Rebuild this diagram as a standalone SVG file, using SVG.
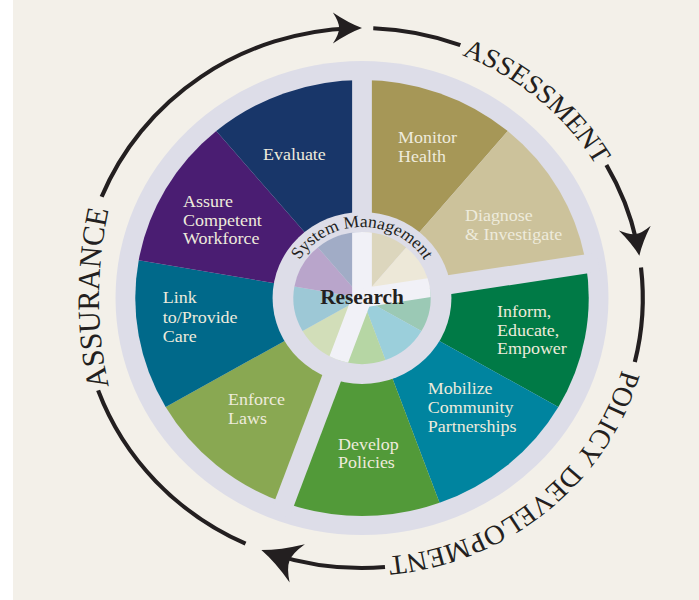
<svg xmlns="http://www.w3.org/2000/svg" width="699" height="600" viewBox="0 0 699 600">
<style>
.lbl{font-family:"Liberation Serif","Times New Roman",serif;font-size:17.3px;fill:#EEEBDC}
.cyc{font-family:"Liberation Serif","Times New Roman",serif;fill:#231F20}
.arc{fill:none;stroke:#231F20;stroke-width:4}
.head{fill:#231F20}
.gap{stroke:#DDDDE8;stroke-width:19}
.band{stroke:#F1F1F7;stroke-width:19;stroke-linecap:round}
.plate{fill:#DDDDE8}
</style>
<defs>
<path id="arrowhead" d="M0,0 Q-13,-5 -28,-15.5 Q-22,-6 -22,0 Q-22,6 -28,15.5 Q-13,5 0,0 Z"/>
<path id="p-assurance" d="M134.43,441.65 A420,420 0 0 1 134.43,154.35"/>
<path id="p-assessment" d="M316.68,40.96 A261,261 0 0 1 623,298"/>
<path id="p-policy" d="M622,298 A260,260 0 0 1 316.85,554.05"/>
<path id="p-system" d="M291,298 A71,71 0 0 1 433,298"/>
<clipPath id="pie-clip"><circle cx="362" cy="298" r="66"/></clipPath>
</defs>

<rect width="699" height="600" fill="#F3F0E9"/>
<rect width="13" height="600" fill="#FFFFFF"/>

<!-- whole wheel is drawn round (362,298) and widened slightly -->
<g transform="matrix(1.04 0 0 1 -14.48 0)">

  <!-- backing plate -->
  <circle class="plate" cx="362" cy="298" r="237"/>

  <g id="monitor-health">
    <path d="M362,298 L362,80 A218,218 0 0 1 502.13,131 Z" fill="#A69757"/>
    <text class="lbl" x="396.6" y="143.5">Monitor</text>
    <text class="lbl" x="396.6" y="162">Health</text>
  </g>
  <g id="diagnose-investigate">
    <path d="M362,298 L502.13,131 A218,218 0 0 1 577.32,263.9 Z" fill="#CCC29B"/>
    <text class="lbl" x="461" y="221.5">Diagnose</text>
    <text class="lbl" x="461" y="240">&amp; Investigate</text>
  </g>
  <g id="inform-educate-empower">
    <path d="M362,298 L577.32,263.9 A218,218 0 0 1 550.79,407 Z" fill="#007A46"/>
    <text class="lbl" x="491.8" y="317">Inform,</text>
    <text class="lbl" x="491.8" y="336">Educate,</text>
    <text class="lbl" x="491.8" y="354.5">Empower</text>
  </g>
  <g id="mobilize-partnerships">
    <path d="M362,298 L550.79,407 A218,218 0 0 1 436.56,502.85 Z" fill="#00849F"/>
    <text class="lbl" x="425.2" y="394">Mobilize</text>
    <text class="lbl" x="425.2" y="413">Community</text>
    <text class="lbl" x="425.2" y="432">Partnerships</text>
  </g>
  <g id="develop-policies">
    <path d="M362,298 L436.56,502.85 A218,218 0 0 1 287.44,502.85 Z" fill="#529A39"/>
    <text class="lbl" x="338.9" y="450">Develop</text>
    <text class="lbl" x="338.9" y="468.5">Policies</text>
  </g>
  <g id="enforce-laws">
    <path d="M362,298 L287.44,502.85 A218,218 0 0 1 173.21,407 Z" fill="#89A852"/>
    <text class="lbl" x="233.2" y="405">Enforce</text>
    <text class="lbl" x="233.2" y="424">Laws</text>
  </g>
  <g id="link-provide-care">
    <path d="M362,298 L173.21,407 A218,218 0 0 1 147.31,260.14 Z" fill="#00698A"/>
    <text class="lbl" x="170.4" y="303.5">Link</text>
    <text class="lbl" x="170.4" y="323">to/Provide</text>
    <text class="lbl" x="170.4" y="342">Care</text>
  </g>
  <g id="assure-workforce">
    <path d="M362,298 L147.31,260.14 A218,218 0 0 1 221.87,131 Z" fill="#4A1D72"/>
    <text class="lbl" x="189.9" y="207">Assure</text>
    <text class="lbl" x="189.9" y="226">Competent</text>
    <text class="lbl" x="189.9" y="244.5">Workforce</text>
  </g>
  <g id="evaluate">
    <path d="M362,298 L221.87,131 A218,218 0 0 1 362,80 Z" fill="#183669"/>
    <text class="lbl" x="266.8" y="160">Evaluate</text>
  </g>

  <!-- separators between the three groups of services -->
  <g id="separators">
    <line class="gap" x1="362" y1="298" x2="362" y2="68"/>
    <line class="gap" x1="362" y1="298" x2="589.17" y2="262.02"/>
    <line class="gap" x1="362" y1="298" x2="283.34" y2="514.13"/>
  </g>

  <g id="system-management">
    <circle class="plate" cx="362" cy="298" r="86"/>
    <text class="cyc" font-size="17"><textPath href="#p-system" startOffset="50%" text-anchor="middle">System Management</textPath></text>
  </g>

  <g id="research">
    <path d="M362,298 L362,232 A66,66 0 0 1 404.42,247.44 Z" fill="#DCD6BD"/>
    <path d="M362,298 L404.42,247.44 A66,66 0 0 1 427.19,287.68 Z" fill="#EDE8D8"/>
    <path d="M362,298 L427.19,287.68 A66,66 0 0 1 419.16,331 Z" fill="#9BC9B5"/>
    <path d="M362,298 L419.16,331 A66,66 0 0 1 384.57,360.02 Z" fill="#9BCFDB"/>
    <path d="M362,298 L384.57,360.02 A66,66 0 0 1 339.43,360.02 Z" fill="#B6D6A4"/>
    <path d="M362,298 L339.43,360.02 A66,66 0 0 1 304.84,331 Z" fill="#D2DEB9"/>
    <path d="M362,298 L304.84,331 A66,66 0 0 1 297,286.54 Z" fill="#9DC8D6"/>
    <path d="M362,298 L297,286.54 A66,66 0 0 1 319.58,247.44 Z" fill="#B9A5CB"/>
    <path d="M362,298 L319.58,247.44 A66,66 0 0 1 362,232 Z" fill="#A1ACC6"/>
    <g clip-path="url(#pie-clip)">
      <line class="band" x1="362" y1="298" x2="362" y2="226"/>
      <line class="band" x1="362" y1="298" x2="433.1" y2="286.7"/>
      <line class="band" x1="362" y1="298" x2="337.4" y2="365.7"/>
    </g>
    <text x="362" y="304" text-anchor="middle" font-family="'Liberation Serif','Times New Roman',serif" font-size="20.5" font-weight="bold" fill="#231F20">Research</text>
  </g>

  <!-- the outer cycle: three phases joined by arrows -->
  <g id="connectors">
    <path class="arc" d="M111.66,196.85 A270,270 0 0 1 352.58,28.16"/>
    <use href="#arrowhead" class="head" transform="translate(362,28)"/>
    <path class="arc" d="M372.84,28.22 A270,270 0 0 1 456.55,45.09"/>
    <path class="arc" d="M597,165.05 A270,270 0 0 1 626.1,241.86"/>
    <use href="#arrowhead" class="head" transform="translate(628.68,255.76) rotate(81)"/>
    <path class="arc" d="M630.26,267.44 A270,270 0 0 1 624.32,361.95"/>
    <path class="arc" d="M384.12,567.09 A270,270 0 0 1 276.33,554.05"/>
    <use href="#arrowhead" class="head" transform="translate(265.24,550.07) rotate(201) scale(1.32)"/>
    <path class="arc" d="M250.03,543.69 A270,270 0 0 1 108.28,390.35"/>
  </g>

  <g id="phase-labels">
    <text class="cyc" font-size="30"><textPath href="#p-assurance" startOffset="50%" text-anchor="middle">ASSURANCE</textPath></text>
    <text class="cyc" font-size="27"><textPath href="#p-assessment" startOffset="50.5%" text-anchor="middle">ASSESSMENT</textPath></text>
    <text class="cyc" font-size="27.5"><textPath href="#p-policy" startOffset="72.6" text-anchor="start">POLICY</textPath></text>
    <text class="cyc" font-size="27.5"><textPath href="#p-policy" startOffset="383.4" text-anchor="end">DEVELOPMENT</textPath></text>
  </g>
</g>
</svg>
